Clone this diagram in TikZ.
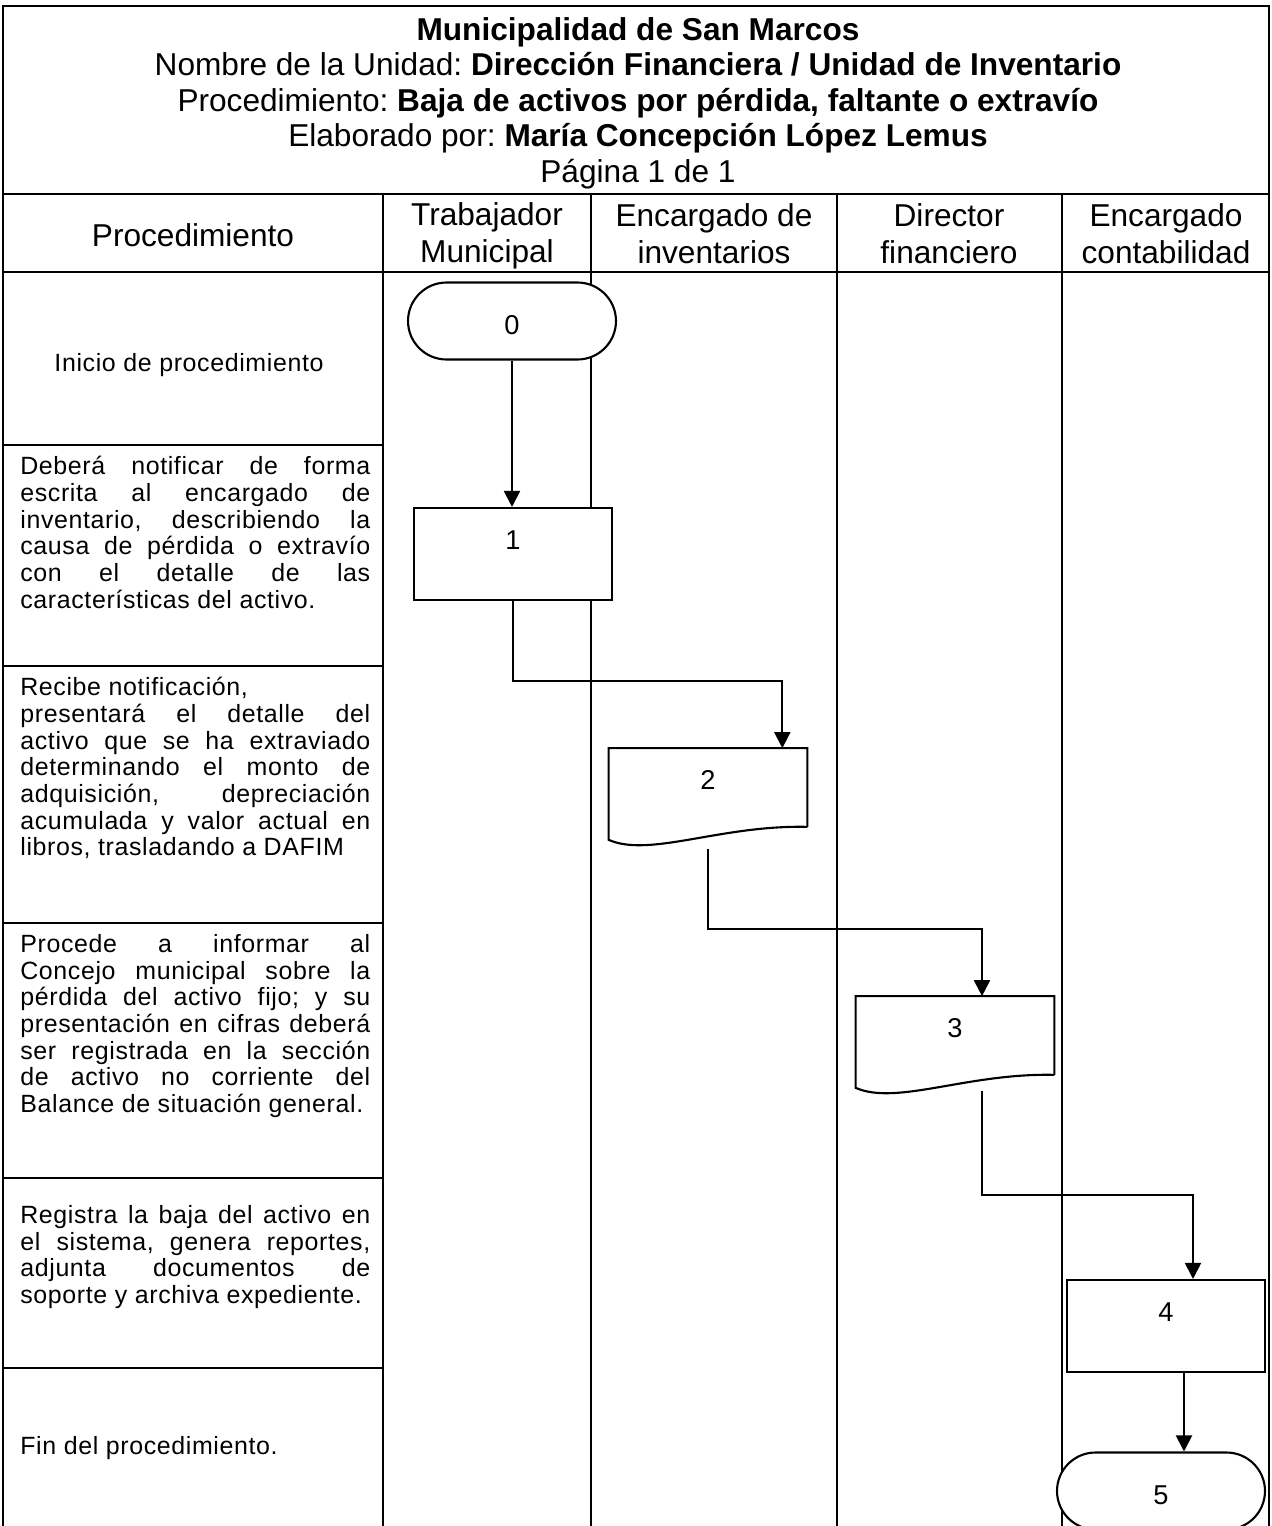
\documentclass[tikz,border=0pt]{standalone}
\usepackage{fontspec}
\setmainfont{Liberation Sans}
\newfontfamily\bodyfam[LetterSpace=2.5]{Liberation Sans}
\usetikzlibrary{arrows.meta}
\hyphenpenalty=10000
\exhyphenpenalty=10000
\lineskiplimit=-5pt
\frenchspacing

\begin{document}
\begin{tikzpicture}[x=0.02cm,y=-0.02cm,
    grid/.style={line width=1.6pt},
    shapeline/.style={draw,line width=1.2pt},
    flow/.style={line width=1.1pt,-{Triangle[length=0.32cm,width=0.32cm]}},
    headfont/.style={font=\fontsize{18}{20.2}\selectfont},
    colfont/.style={font=\fontsize{18}{21}\selectfont,align=center},
    bodyfont/.style={font=\bodyfam\fontsize{14.2}{15.2}\selectfont},
    numfont/.style={font=\fontsize{15.5}{15.5}\selectfont},
    steptext/.style={bodyfont,text width=7cm,align=justify,inner sep=0pt},
    termbox/.style={shapeline,fill=white,numfont,rounded corners=0.77cm,
        minimum width=4.16cm,minimum height=1.54cm,text height=0.54cm,text depth=0cm},
    procbox/.style={shapeline,fill=white,numfont,minimum width=3.96cm,
        minimum height=1.84cm,text height=0.39cm,text depth=0.56cm},
    docbox/.style={numfont,inner sep=0pt,minimum width=3.96cm,
        minimum height=1.82cm,text height=0.39cm,text depth=0.56cm}]
    \useasboundingbox (0,0) rectangle (1272,1526);

    % Draw the table
    \draw[grid] (3,1526) -- (3,6) -- (1269,6) -- (1269,1526);
    \foreach \y in {194,272}
        \draw[grid] (3,\y) -- (1269,\y);
    \foreach \x in {383,591,837,1062}
        \draw[grid] (\x,194) -- (\x,1526);
    \foreach \y in {445,666,923,1178,1368}
        \draw[grid] (3,\y) -- (383,\y);

    % Header
    \node[headfont,align=center] (title) at (638,103) {\textbf{Municipalidad de San Marcos}\\
        Nombre de la Unidad: \textbf{Dirección Financiera / Unidad de Inventario}\\
        Procedimiento: \textbf{Baja de activos por pérdida, faltante o extravío}\\
        Elaborado por: \textbf{María Concepción López Lemus}\\
        Página 1 de 1};

    % Column titles
    \node[colfont] (hproc) at (193,235) {Procedimiento};
    \node[colfont] (htrab) at (487,236) {Trabajador\\Municipal};
    \node[colfont] (hinv) at (714,234) {Encargado de\\inventarios};
    \node[colfont] (hdir) at (949,234) {Director\\financiero};
    \node[colfont] (hcont) at (1166,234) {Encargado\\contabilidad};

    % Steps
    \node[bodyfont] (s0) at (189,365) {Inicio de procedimiento};
    \node[steptext,anchor=north west] (s1) at (20,456) {Deberá notificar de forma\linebreak
        escrita al encargado de\linebreak inventario, describiendo la\linebreak
        causa de pérdida o extravío\linebreak con el detalle de las\linebreak
        características del activo.};
    \node[steptext,anchor=north west] (s2) at (20,677) {Recibe notificación,\newline
        presentará el detalle del\linebreak activo que se ha extraviado\linebreak
        determinando el monto de\linebreak adquisición, depreciación\linebreak
        acumulada y valor actual en\linebreak libros, trasladando a DAFIM};
    \node[steptext,anchor=north west] (s3) at (20,934) {Procede a informar al\linebreak
        Concejo municipal sobre la\linebreak pérdida del activo fijo; y su\linebreak
        presentación en cifras deberá\linebreak ser registrada en la sección\linebreak
        de activo no corriente del\linebreak Balance de situación general.};
    \node[steptext,anchor=north west] (s4) at (20,1205) {Registra la baja del activo en\linebreak
        el sistema, genera reportes,\linebreak adjunta documentos de\linebreak
        soporte y archiva expediente.};
    \node[bodyfont,anchor=west,inner sep=0pt] (s5) at (20,1448) {Fin del procedimiento.};

    % Flow shapes
    \node[termbox] (t0) at (512,321) {0};
    \node[procbox] (b1) at (513,554) {1};
    \node[docbox] (d2) at (708,794) {2};
    \node[docbox] (d3) at (955,1042) {3};
    \node[procbox] (b4) at (1166,1326) {4};
    \node[termbox] (t5) at (1161,1491) {5};

    % Document outlines
    \foreach \d in {d2,d3}
        \draw[shapeline] ([yshift=0.26cm]\d.south east) -- (\d.north east) -- (\d.north west)
            -- (\d.south west) .. controls +(41,18) and +(-87,-2) .. ([yshift=0.26cm]\d.south east);

    % Connectors
    \draw[flow] (t0.south) -- (t0.south |- b1.north);
    \draw[flow] (b1.south) -- ++(0,80) -| ([xshift=-0.5cm]d2.north east);
    \draw[flow] ([yshift=-0.18cm]d2.south) -- ++(0,80) -| ([xshift=0.54cm]d3.north);
    \draw[flow] ([xshift=0.54cm,yshift=-0.06cm]d3.south) -- ++(0,104) -| ([xshift=0.54cm]b4.north);
    \draw[flow] ([xshift=0.36cm]b4.south) -- ([xshift=0.36cm]b4.south |- t5.north);
\end{tikzpicture}
\end{document}
